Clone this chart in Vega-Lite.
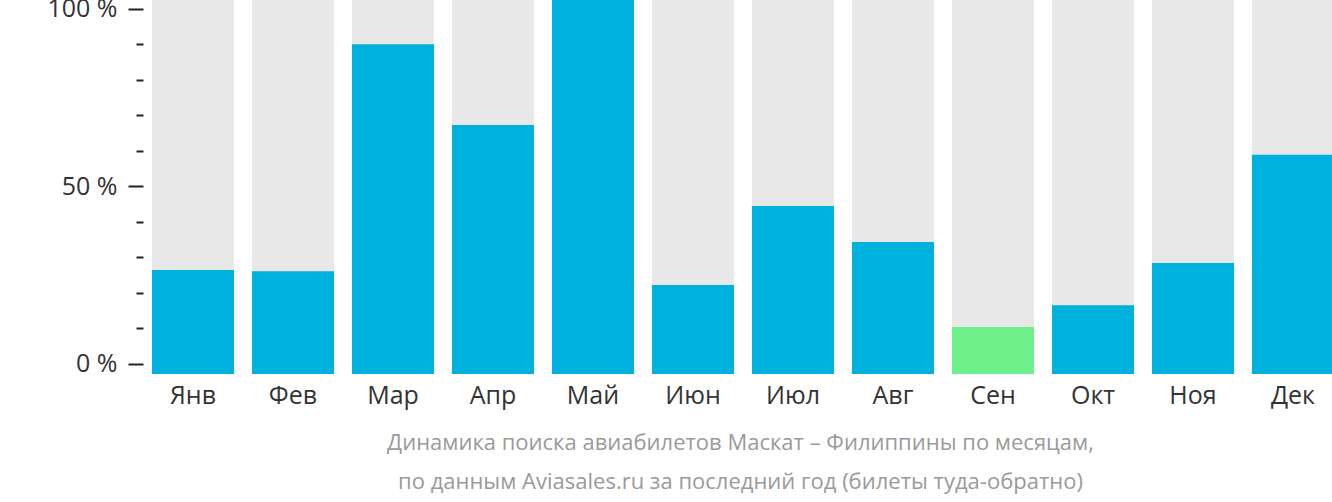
{
  "$schema": "https://vega.github.io/schema/vega-lite/v6.json",
  "autosize": {"type": "none"},
  "padding": {"left": 143, "top": 0, "right": 0, "bottom": 128},
  "width": 1189,
  "height": 374,
  "background": "white",
  "config": {"view": {"stroke": null}, "font": "Open Sans"},
  "title": {
    "text": ["Динамика поиска авиабилетов Маскат – Филиппины по месяцам,", "по данным Aviasales.ru за последний год (билеты туда-обратно)"],
    "orient": "bottom",
    "anchor": "middle",
    "dx": 3,
    "offset": 25,
    "font": "Open Sans",
    "fontSize": 22,
    "fontWeight": "normal",
    "color": "#9a9a9a",
    "lineHeight": 39
  },
  "data": {"values": [
    {"month": "Янв", "value": 27.8},
    {"month": "Фев", "value": 27.5},
    {"month": "Мар", "value": 88.2},
    {"month": "Апр", "value": 66.6},
    {"month": "Май", "value": 100},
    {"month": "Июн", "value": 23.8},
    {"month": "Июл", "value": 44.9},
    {"month": "Авг", "value": 35.3},
    {"month": "Сен", "value": 12.6},
    {"month": "Окт", "value": 18.4},
    {"month": "Ноя", "value": 29.7},
    {"month": "Дек", "value": 58.6}
  ]},
  "encoding": {
    "x": {
      "field": "month", "type": "nominal", "sort": null,
      "scale": {"range": [0, 1200], "paddingInner": 0.18, "paddingOuter": 0.09},
      "axis": {"title": null, "ticks": false, "domain": false, "labelAngle": 0, "labelFont": "Open Sans", "labelFontSize": 25, "labelColor": "#333333", "labelPadding": 9}
    }
  },
  "layer": [
    {
      "mark": {"type": "bar", "color": "#e8e8e8"},
      "encoding": {"y": {"datum": 100, "type": "quantitative", "scale": {"domain": [0, 100], "nice": false}, "axis": null}}
    },
    {
      "mark": {"type": "bar"},
      "encoding": {
        "y": {"field": "value", "type": "quantitative", "scale": {"domain": [0, 100], "nice": false}, "axis": null},
        "color": {"condition": {"test": "datum.month === 'Сен'", "value": "#6ff08a"}, "value": "#00b1dd"}
      }
    },
    {
      "mark": {"type": "rule", "opacity": 0},
      "encoding": {
        "y": {"field": "value", "type": "quantitative",
          "scale": {"domain": [-2.817, 102.535], "nice": false, "zero": false},
          "axis": {
            "title": null, "domain": false, "grid": false,
            "values": [0, 10, 20, 30, 40, 50, 60, 70, 80, 90, 100],
            "labelExpr": "datum.value % 50 === 0 ? datum.value + ' %' : ''",
            "tickSize": {"condition": {"test": "datum.value % 50 === 0", "value": 15}, "value": 7},
            "tickWidth": 2,
            "tickColor": "#222222",
            "labelPadding": 11,
            "labelFont": "Open Sans", "labelFontSize": 25, "labelColor": "#333333"
          }
        }
      }
    }
  ],
  "resolve": {"scale": {"y": "independent"}}
}
